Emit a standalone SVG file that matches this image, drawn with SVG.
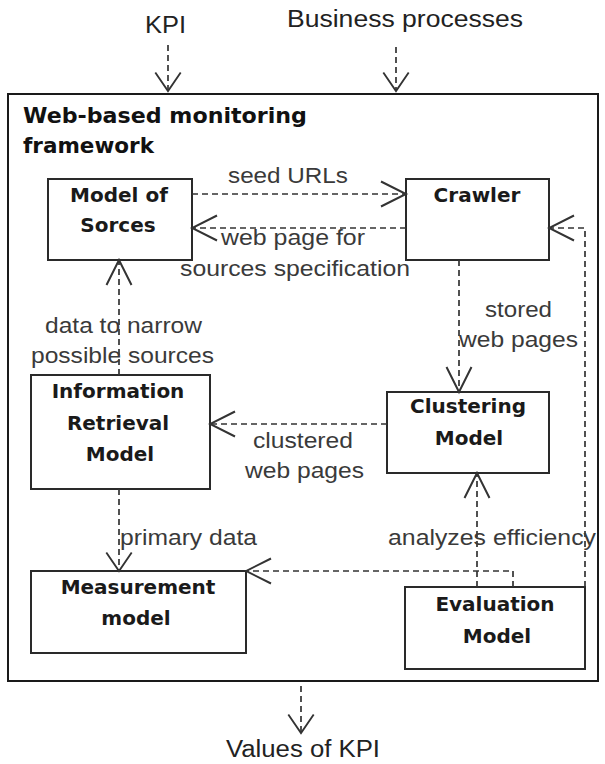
<svg xmlns="http://www.w3.org/2000/svg" width="605" height="764" viewBox="0 0 605 764">
  <style>
    .box { fill: #ffffff; stroke: #2a2a2a; stroke-width: 2; }
    .frame { fill: none; stroke: #1a1a1a; stroke-width: 2; }
    .title { font-family: "DejaVu Sans", "Liberation Sans", sans-serif; font-weight: bold; font-size: 21.5px; fill: #111; }
    .node { font-family: "DejaVu Sans", "Liberation Sans", sans-serif; font-weight: bold; font-size: 20px; fill: #1a1a1a; text-anchor: middle; }
    .lbl { font-family: "Liberation Sans", Arial, sans-serif; font-size: 22px; fill: #3a3a3a; }
    .ext { font-family: "Liberation Sans", Arial, sans-serif; font-size: 23px; fill: #222; }
    .dash { fill: none; stroke: #333; stroke-width: 1.7; stroke-dasharray: 6 4; }
  </style>
  <defs>
    <marker id="open" markerUnits="userSpaceOnUse" markerWidth="30" markerHeight="30" viewBox="-22 -12 24 24" refX="0" refY="0" orient="auto">
      <path d="M-20,-10 L0,0 L-20,10" fill="none" stroke="#333" stroke-width="1.6"/>
    </marker>
    <marker id="open-small" markerUnits="userSpaceOnUse" markerWidth="30" markerHeight="30" viewBox="-22 -13 24 26" refX="0" refY="0" orient="auto">
      <path d="M-16,-11 L0,0 L-16,11" fill="none" stroke="#333" stroke-width="1.6"/>
    </marker>
  </defs>

  <!-- external inputs and output -->
  <text class="ext" x="145" y="33" textLength="41" lengthAdjust="spacingAndGlyphs">KPI</text>
  <text class="ext" x="287" y="27" textLength="236" lengthAdjust="spacingAndGlyphs">Business processes</text>
  <text class="ext" x="226" y="757" textLength="154" lengthAdjust="spacingAndGlyphs">Values of KPI</text>

  <!-- framework boundary -->
  <g id="framework">
    <rect class="frame" x="8" y="94" width="590" height="587"/>
    <text class="title" x="23" y="123" textLength="284" lengthAdjust="spacingAndGlyphs">Web-based monitoring</text>
    <text class="title" x="23" y="153" textLength="131" lengthAdjust="spacingAndGlyphs">framework</text>
  </g>

  <g id="model-of-sources">
    <rect class="box" x="48" y="179" width="144" height="81"/>
    <text class="node" x="119" y="202">Model of</text>
    <text class="node" x="118" y="232">Sorces</text>
  </g>

  <g id="crawler">
    <rect class="box" x="406" y="179" width="143" height="81"/>
    <text class="node" x="477" y="202">Crawler</text>
  </g>

  <g id="information-retrieval">
    <rect class="box" x="31" y="375" width="179" height="114"/>
    <text class="node" x="118" y="398">Information</text>
    <text class="node" x="118" y="430">Retrieval</text>
    <text class="node" x="120" y="461">Model</text>
  </g>

  <g id="clustering">
    <rect class="box" x="387" y="392" width="162" height="81"/>
    <text class="node" x="468" y="413">Clustering</text>
    <text class="node" x="469" y="445">Model</text>
  </g>

  <g id="measurement">
    <rect class="box" x="31" y="571" width="215" height="82"/>
    <text class="node" x="138" y="594">Measurement</text>
    <text class="node" x="136" y="625">model</text>
  </g>

  <g id="evaluation">
    <rect class="box" x="405" y="587" width="180" height="82"/>
    <text class="node" x="495" y="611">Evaluation</text>
    <text class="node" x="497" y="643">Model</text>
  </g>

  <!-- dependency connectors -->
  <g id="connectors">
    <path class="dash" d="M168,45 V91" marker-end="url(#open-small)"/>
    <path class="dash" d="M396,47 V91" marker-end="url(#open-small)"/>
    <path class="dash" d="M192,194 H406" marker-end="url(#open)"/>
    <path class="dash" d="M406,228 H192" marker-end="url(#open)"/>
    <path class="dash" d="M459,260 V392" marker-end="url(#open)"/>
    <path class="dash" d="M585,587 V228 H549" marker-end="url(#open)"/>
    <path class="dash" d="M387,424 H210" marker-end="url(#open)"/>
    <path class="dash" d="M119,375 V260" marker-end="url(#open)"/>
    <path class="dash" d="M119,489 V571" marker-end="url(#open-small)"/>
    <path class="dash" d="M477,587 V473" marker-end="url(#open)"/>
    <path class="dash" d="M513,587 V571 H246" marker-end="url(#open)"/>
    <path class="dash" d="M301,686 V733" marker-end="url(#open-small)"/>
  </g>

  <!-- connector labels -->
  <g id="labels">
    <text class="lbl" x="228" y="183" textLength="120" lengthAdjust="spacingAndGlyphs">seed URLs</text>
    <text class="lbl" x="221" y="245" textLength="144" lengthAdjust="spacingAndGlyphs">web page for</text>
    <text class="lbl" x="180" y="276" textLength="230" lengthAdjust="spacingAndGlyphs">sources specification</text>
    <text class="lbl" x="485" y="317" textLength="67" lengthAdjust="spacingAndGlyphs">stored</text>
    <text class="lbl" x="459" y="347" textLength="119" lengthAdjust="spacingAndGlyphs">web pages</text>
    <text class="lbl" x="45" y="333" textLength="157" lengthAdjust="spacingAndGlyphs">data to narrow</text>
    <text class="lbl" x="31" y="363" textLength="183" lengthAdjust="spacingAndGlyphs">possible sources</text>
    <text class="lbl" x="253" y="448" textLength="100" lengthAdjust="spacingAndGlyphs">clustered</text>
    <text class="lbl" x="245" y="478" textLength="119" lengthAdjust="spacingAndGlyphs">web pages</text>
    <text class="lbl" x="120" y="545" textLength="137" lengthAdjust="spacingAndGlyphs">primary data</text>
    <text class="lbl" x="388" y="545" textLength="208" lengthAdjust="spacingAndGlyphs">analyzes efficiency</text>
  </g>
</svg>
